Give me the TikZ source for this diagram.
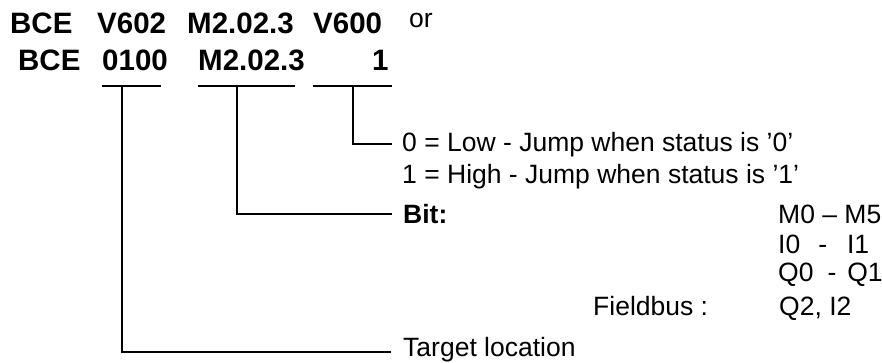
\documentclass[tikz,border=0pt]{standalone}
\usepackage{fontspec}
\setmainfont{Liberation Sans}
\begin{document}
\begin{tikzpicture}[x=1pt,y=-1pt,
  hd/.style={anchor=base west,inner sep=0pt,font=\fontsize{29.5}{32}\selectfont\bfseries},
  tx/.style={anchor=base west,inner sep=0pt,font=\fontsize{26.5}{30}\selectfont},
  bx/.style={anchor=base west,inner sep=0pt,font=\fontsize{26.5}{30}\selectfont\bfseries},
  ln/.style={line width=1.3pt,line cap=butt}]
\useasboundingbox (0,0) rectangle (882,362);
% heading line 1
\node[hd] (h1a) at (10,33) {BCE};
\node[hd] (h1b) at (97,33) {V602};
\node[hd] (h1c) at (187,33) {M2.02.3};
\node[hd] (h1d) at (313,33) {V600};
\node[tx] (or) at (409,27) {or};
% heading line 2
\node[hd] (h2a) at (18,70) {BCE};
\node[hd] (h2b) at (102,70) {0100};
\node[hd] (h2c) at (198,70) {M2.02.3};
\node[hd] (h2d) at (372,70) {1};
% underlines
\coordinate (u1a) at (102,86); \coordinate (u1b) at (161,86);
\coordinate (u2a) at (198,86); \coordinate (u2b) at (295,86);
\coordinate (u3a) at (313,86); \coordinate (u3b) at (392,86);
\draw[ln] (u1a) -- (u1b);
\draw[ln] (u2a) -- (u2b);
\draw[ln] (u3a) -- (u3b);
\coordinate (t1) at (122,86); \coordinate (t2) at (237,86); \coordinate (t3) at (353,86);
\coordinate (e1) at (391,352); \coordinate (e2) at (392,214); \coordinate (e3) at (392,144);
\draw[ln] (t3) |- (e3);
\draw[ln] (t2) |- (e2);
\draw[ln] (t1) |- (e1);
% texts
\node[tx] (low) at (402,151) {0 = Low - Jump when status is ’0’};
\node[tx] (high) at (402,183) {1 = High - Jump when status is ’1’};
\node[bx] (bit) at (403,223) {Bit:};
\node[tx] (m) at (778,223) {M0 – M5};
\node[tx] (i) at (778,253) {I0\hspace{18pt}-\hspace{20pt}I1};
\node[tx] (q) at (778,281) {Q0\hspace{14pt}-\hspace{11pt}Q1};
\node[tx] (fb) at (593,315) {Fieldbus :};
\node[tx] (q2) at (779,315) {Q2, I2};
\node[tx] (tl) at (403,356) {Target location};
\end{tikzpicture}
\end{document}
